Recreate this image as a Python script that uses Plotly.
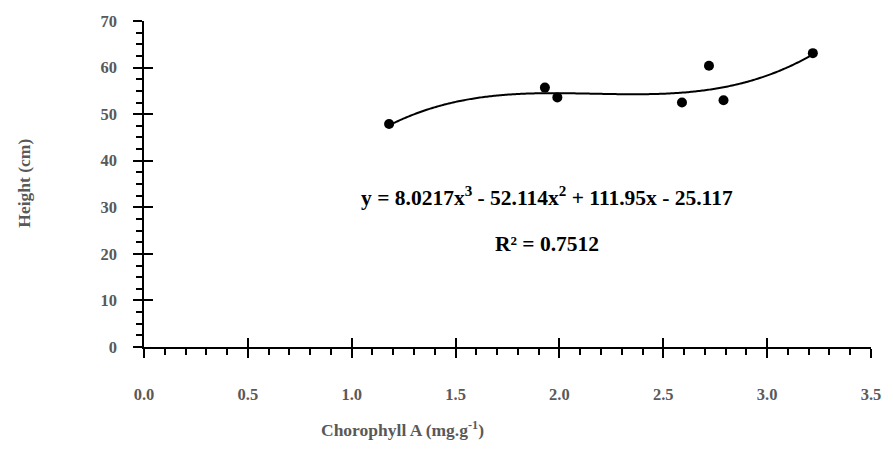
import numpy as np
import plotly.graph_objects as go

# Data
chlorophyll = [1.18, 1.93, 1.99, 2.59, 2.72, 2.79, 3.22]
height_cm = [47.9, 55.7, 53.6, 52.5, 60.4, 53.0, 63.1]
# Trendline coefficients (stated on the chart): a*x^3 + b*x^2 + c*x + d
poly_coeffs = [8.0217, -52.114, 111.95, -25.117]
r_squared = 0.7512
x_ticks = [0.0, 0.5, 1.0, 1.5, 2.0, 2.5, 3.0, 3.5]
y_ticks = [0, 10, 20, 30, 40, 50, 60, 70]

FONT = "Liberation Serif"
GRAY = "#595959"

xs = np.linspace(min(chlorophyll), max(chlorophyll), 300)
ys = np.polyval(poly_coeffs, xs)

fig = go.Figure()
fig.add_trace(go.Scatter(x=xs, y=ys, mode="lines",
                         line=dict(color="black", width=2, simplify=False),
                         hoverinfo="skip"))
fig.add_trace(go.Scatter(x=chlorophyll, y=height_cm, mode="markers",
                         marker=dict(color="black", size=10)))
# invisible trace on overlay axes so they render
fig.add_trace(go.Scatter(x=[None], y=[None], xaxis="x2", yaxis="y2", showlegend=False))

axis_common = dict(showgrid=False, zeroline=False, showline=True, linecolor="black",
                   linewidth=1.5, tickcolor="black", tickwidth=1.5, ticklen=9,
                   ticks="outside",
                   tickfont=dict(family=FONT, size=16.5, color=GRAY, weight="bold"))

fig.update_layout(
    width=893, height=468,
    margin=dict(l=143.5, r=15.6, t=20, b=121.3),
    plot_bgcolor="white", paper_bgcolor="white",
    showlegend=False,
    xaxis=dict(range=[0, 3.5], tickvals=x_ticks,
               ticktext=[f"{v:.1f}" for v in x_ticks],
               minor=dict(ticks="outside", dtick=0.1, ticklen=6.5, tickwidth=1.5,
                          tickcolor="black"),
               ticklabelstandoff=22, **axis_common),
    yaxis=dict(range=[0, 70], tickvals=y_ticks,
               ticktext=[str(v) for v in y_ticks],
               minor=dict(ticks="outside", dtick=2.5, ticklen=6.5, tickwidth=1.5,
                          tickcolor="black"),
               ticklabelstandoff=13, **axis_common),
    xaxis2=dict(range=[0, 3.5], overlaying="x", tickvals=x_ticks, ticks="inside",
                ticklen=9, tickwidth=1.5, tickcolor="black", showticklabels=False,
                showgrid=False, zeroline=False, showline=False, side="bottom", anchor="y2"),
    yaxis2=dict(range=[0, 70], overlaying="y", tickvals=y_ticks, ticks="inside",
                ticklen=9, tickwidth=1.5, tickcolor="black", showticklabels=False,
                showgrid=False, zeroline=False, showline=False, side="left", anchor="x2"),
)

a, b, c, d = poly_coeffs
eq_text = (f"y = {a}x<sup>3</sup> - {abs(b)}x<sup>2</sup> + {c}x - {abs(d)}")
fig.add_annotation(x=1.94, y=32.3, xref="x", yref="y", text=eq_text, showarrow=False,
                   xanchor="center", yanchor="middle",
                   font=dict(family=FONT, size=21.5, color="black", weight="bold"))
fig.add_annotation(x=1.94, y=22.2, xref="x", yref="y", text=f"R² = {r_squared}",
                   showarrow=False, xanchor="center", yanchor="middle",
                   font=dict(family=FONT, size=21.5, color="black", weight="bold"))

fig.add_annotation(x=-0.165, y=0.501, xref="paper", yref="paper", text="Height (cm)",
                   textangle=-90, showarrow=False, xanchor="center", yanchor="middle",
                   font=dict(family=FONT, size=17.5, color=GRAY, weight="bold"))
fig.add_annotation(x=0.356, y=-0.25, xref="paper", yref="paper",
                   text="Chorophyll A (mg.g<sup>-1</sup>)", showarrow=False,
                   xanchor="center", yanchor="middle",
                   font=dict(family=FONT, size=17.5, color=GRAY, weight="bold"))

fig.write_html("out.html")
